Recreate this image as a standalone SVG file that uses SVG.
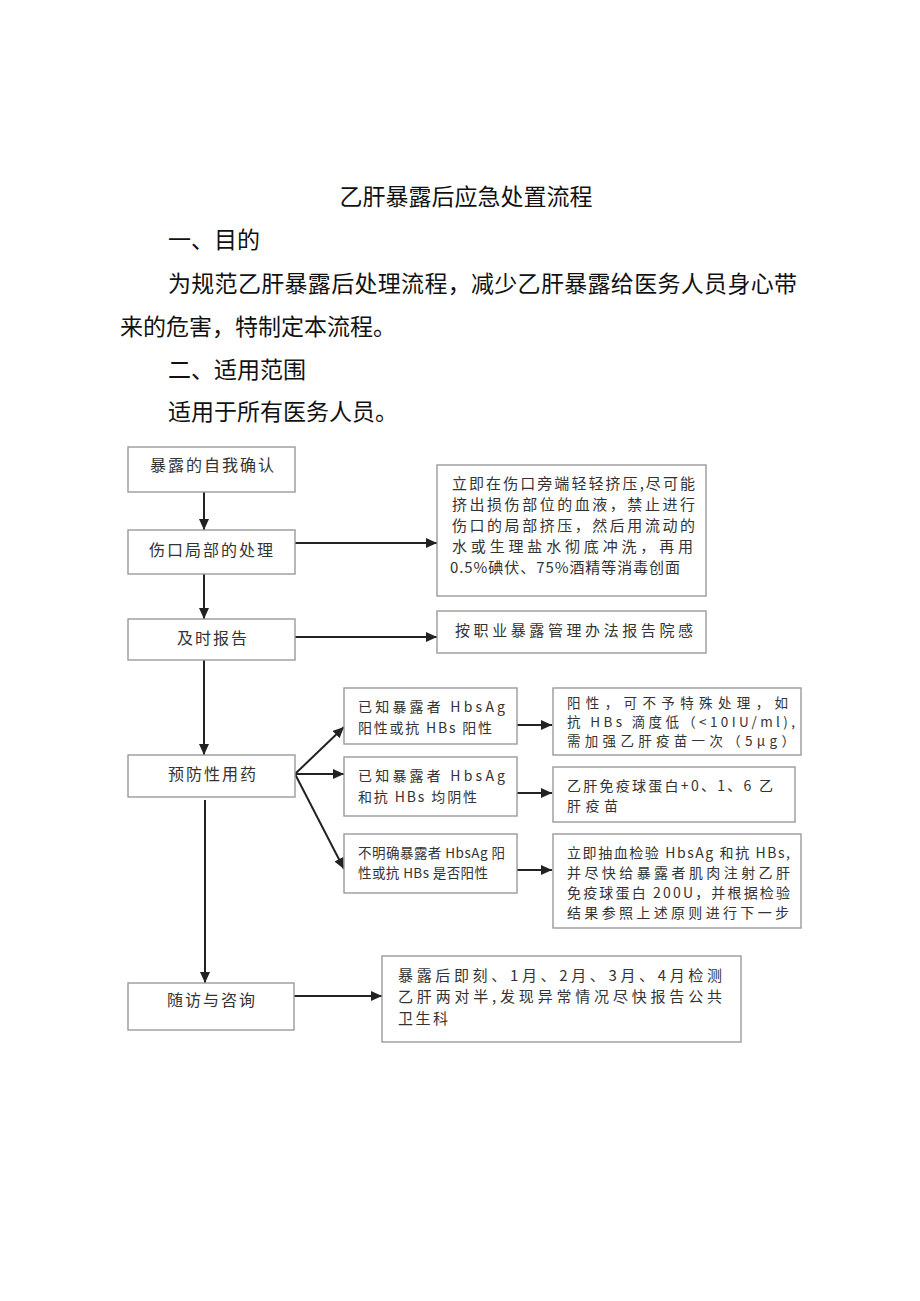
<svg xmlns="http://www.w3.org/2000/svg" width="920" height="1301" viewBox="0 0 920 1301">
<defs>
<style>
.doc{font-family:"Noto Sans CJK SC","Liberation Sans",sans-serif;font-size:23px;fill:#111}
.box{fill:#fff;stroke:#9a9a9a;stroke-width:1.4}
.lt{font-family:"Noto Sans CJK SC","Liberation Sans",sans-serif;font-size:16px;fill:#333;text-anchor:middle;letter-spacing:2px}
.bt{font-family:"Noto Sans CJK SC","Liberation Sans",sans-serif;font-size:15px;fill:#333}
.ct{font-size:14px}
.sm{font-size:13.5px}
.con{stroke:#222;stroke-width:2;fill:none}
</style>
<marker id="ah" markerUnits="userSpaceOnUse" markerWidth="11" markerHeight="10" refX="11" refY="5" orient="auto">
<path d="M0,0 L11,5 L0,10 z" fill="#222"/>
</marker>
</defs>
<rect width="920" height="1301" fill="#fff"/>
<g id="document-text">
<text class="doc" x="466" y="205" text-anchor="middle">乙肝暴露后应急处置流程</text>
<text class="doc" x="168" y="248">一、目的</text>
<text class="doc" x="168" y="292" textLength="629" lengthAdjust="spacing">为规范乙肝暴露后处理流程，减少乙肝暴露给医务人员身心带</text>
<text class="doc" x="120" y="335">来的危害，特制定本流程。</text>
<text class="doc" x="168" y="378">二、适用范围</text>
<text class="doc" x="168" y="420">适用于所有医务人员。</text>
</g>
<g id="connectors">
<line class="con" x1="204" y1="491" x2="204" y2="530" marker-end="url(#ah)"/>
<line class="con" x1="204" y1="574" x2="204" y2="619" marker-end="url(#ah)"/>
<line class="con" x1="204" y1="660" x2="204" y2="755" marker-end="url(#ah)"/>
<line class="con" x1="205" y1="800" x2="205" y2="983" marker-end="url(#ah)"/>
<line class="con" x1="295" y1="543" x2="437" y2="543" marker-end="url(#ah)"/>
<line class="con" x1="295" y1="637" x2="437" y2="637" marker-end="url(#ah)"/>
<line class="con" x1="295" y1="774" x2="344" y2="727" marker-end="url(#ah)"/>
<line class="con" x1="295" y1="774" x2="344" y2="774" marker-end="url(#ah)"/>
<line class="con" x1="295" y1="774" x2="344" y2="869" marker-end="url(#ah)"/>
<line class="con" x1="517" y1="725" x2="552" y2="725" marker-end="url(#ah)"/>
<line class="con" x1="517" y1="793" x2="552" y2="793" marker-end="url(#ah)"/>
<line class="con" x1="517" y1="870" x2="552" y2="870" marker-end="url(#ah)"/>
<line class="con" x1="294" y1="996" x2="382" y2="996" marker-end="url(#ah)"/>
</g>
<g id="n-confirm">
<rect class="box" x="128" y="447" width="167" height="45"/>
<text class="lt" x="213" y="471">暴露的自我确认</text>
</g>
<g id="n-wound">
<rect class="box" x="128" y="530" width="167" height="44"/>
<text class="lt" x="212" y="556">伤口局部的处理</text>
</g>
<g id="n-report">
<rect class="box" x="128" y="619" width="167" height="41"/>
<text class="lt" x="213" y="644">及时报告</text>
</g>
<g id="n-prevent">
<rect class="box" x="128" y="755" width="167" height="42"/>
<text class="lt" x="213" y="780">预防性用药</text>
</g>
<g id="n-follow">
<rect class="box" x="128" y="983" width="166" height="47"/>
<text class="lt" x="212" y="1006">随访与咨询</text>
</g>
<g id="n-wound-detail">
<rect class="box" x="437" y="465" width="269" height="131"/>
<text class="bt" x="452" y="489" textLength="243" lengthAdjust="spacing">立即在伤口旁端轻轻挤压,尽可能</text>
<text class="bt" x="452" y="510" textLength="243" lengthAdjust="spacing">挤出损伤部位的血液，禁止进行</text>
<text class="bt" x="452" y="531" textLength="243" lengthAdjust="spacing">伤口的局部挤压，然后用流动的</text>
<text class="bt" x="452" y="552" textLength="241" lengthAdjust="spacing">水或生理盐水彻底冲洗，再用</text>
<text class="bt" x="450" y="573" textLength="230" lengthAdjust="spacing">0.5%碘伏、75%酒精等消毒创面</text>
</g>
<g id="n-report-detail">
<rect class="box" x="437" y="611" width="269" height="42"/>
<text class="bt" x="455" y="636" textLength="238" lengthAdjust="spacing">按职业暴露管理办法报告院感</text>
</g>
<g id="n-case1">
<rect class="box" x="344" y="688" width="173" height="56"/>
<text class="bt ct" x="358" y="712" textLength="147" lengthAdjust="spacing">已知暴露者 HbsAg</text>
<text class="bt ct" x="358" y="733" textLength="134" lengthAdjust="spacing">阳性或抗 HBs 阳性</text>
</g>
<g id="n-case2">
<rect class="box" x="344" y="757" width="173" height="59"/>
<text class="bt ct" x="358" y="781" textLength="147" lengthAdjust="spacing">已知暴露者 HbsAg</text>
<text class="bt ct" x="358" y="802" textLength="119" lengthAdjust="spacing">和抗 HBs 均阴性</text>
</g>
<g id="n-case3">
<rect class="box" x="344" y="834" width="173" height="59"/>
<text class="bt sm" x="358" y="858" textLength="147" lengthAdjust="spacing">不明确暴露者 HbsAg 阳</text>
<text class="bt sm" x="358" y="878" textLength="130" lengthAdjust="spacing">性或抗 HBs 是否阳性</text>
</g>
<g id="n-action1">
<rect class="box" x="553" y="688" width="248" height="67"/>
<text class="bt sm" x="567" y="708" textLength="221" lengthAdjust="spacing">阳性，可不予特殊处理，如</text>
<text class="bt sm" x="567" y="727" textLength="228" lengthAdjust="spacing">抗 HBs 滴度低（&lt;10IU/ml),</text>
<text class="bt sm" x="567" y="746" textLength="228" lengthAdjust="spacing">需加强乙肝疫苗一次（5μg）</text>
</g>
<g id="n-action2">
<rect class="box" x="553" y="767" width="242" height="55"/>
<text class="bt ct" x="567" y="791" textLength="206" lengthAdjust="spacing">乙肝免疫球蛋白+0、1、6 乙</text>
<text class="bt ct" x="567" y="811" textLength="51" lengthAdjust="spacing">肝疫苗</text>
</g>
<g id="n-action3">
<rect class="box" x="553" y="834" width="248" height="94"/>
<text class="bt ct" x="567" y="858" textLength="223" lengthAdjust="spacing">立即抽血检验 HbsAg 和抗 HBs,</text>
<text class="bt ct" x="567" y="878" textLength="223" lengthAdjust="spacing">并尽快给暴露者肌肉注射乙肝</text>
<text class="bt ct" x="567" y="898" textLength="223" lengthAdjust="spacing">免疫球蛋白 200U，并根据检验</text>
<text class="bt ct" x="567" y="918" textLength="222" lengthAdjust="spacing">结果参照上述原则进行下一步</text>
</g>
<g id="n-follow-detail">
<rect class="box" x="382" y="956" width="359" height="86"/>
<text class="bt" x="398" y="981" textLength="324" lengthAdjust="spacing">暴露后即刻、1月、2月、3月、4月检测</text>
<text class="bt" x="398" y="1002" textLength="324" lengthAdjust="spacing">乙肝两对半,发现异常情况尽快报告公共</text>
<text class="bt" x="398" y="1024" textLength="50" lengthAdjust="spacing">卫生科</text>
</g>
</svg>
